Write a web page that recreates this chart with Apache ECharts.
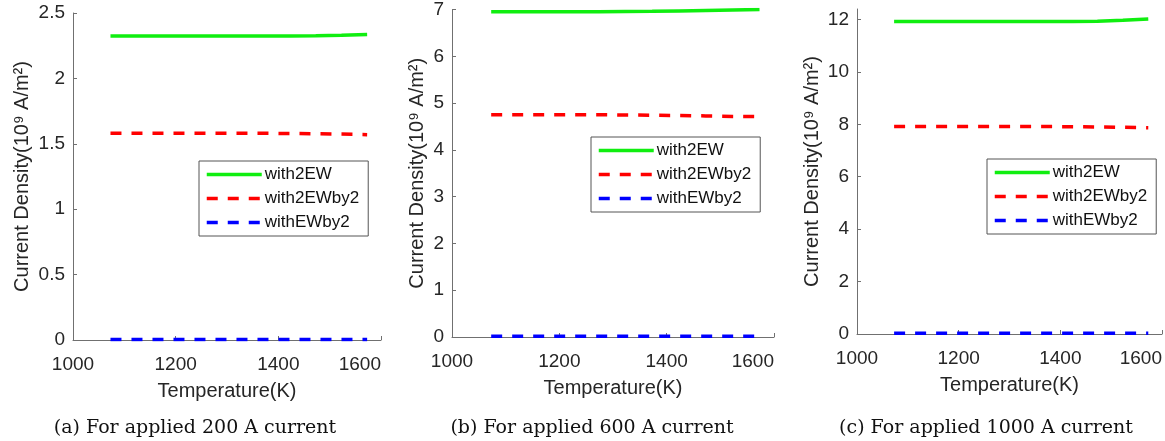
<!DOCTYPE html>
<html>
<head>
<meta charset="utf-8">
<script src="https://cdn.jsdelivr.net/npm/echarts@6/dist/echarts.min.js"></script>
<style>
  html, body { margin: 0; padding: 0; background: #fff; }
  #grafica { width: 1165px; height: 441px; }
</style>
</head>
<body>
<div id="grafica"></div>
<script>
// temperatures (K)
const temps = [1073, 1123, 1173, 1223, 1273, 1323, 1373, 1423, 1473, 1523, 1573];
const names = ["with2EW", "with2EWby2", "withEWby2"];

// (a) 200 A
const a2EW = [2.325, 2.325, 2.325, 2.325, 2.325, 2.325, 2.325, 2.325, 2.326, 2.33, 2.335];
const a2EWby2 = [1.58, 1.58, 1.58, 1.58, 1.58, 1.58, 1.58, 1.579, 1.577, 1.574, 1.57];
const aEWby2 = [0.004, 0.004, 0.004, 0.004, 0.004, 0.004, 0.004, 0.004, 0.004, 0.004, 0.004];

// (b) 600 A
const b2EW = [6.95, 6.95, 6.95, 6.95, 6.95, 6.955, 6.96, 6.97, 6.98, 6.99, 7.0];
const b2EWby2 = [4.75, 4.75, 4.75, 4.75, 4.75, 4.745, 4.74, 4.735, 4.725, 4.715, 4.71];
const bEWby2 = [0.015, 0.015, 0.015, 0.015, 0.015, 0.015, 0.015, 0.015, 0.015, 0.015, 0.015];

// (c) 1000 A
const c2EW = [11.92, 11.92, 11.92, 11.92, 11.92, 11.92, 11.92, 11.92, 11.93, 11.97, 12.02];
const c2EWby2 = [7.92, 7.92, 7.92, 7.92, 7.92, 7.92, 7.915, 7.91, 7.9, 7.885, 7.87];
const cEWby2 = [0.025, 0.025, 0.025, 0.025, 0.025, 0.025, 0.025, 0.025, 0.025, 0.025, 0.025];

const captions = ["(a) For applied 200 A current", "(b) For applied 600 A current", "(c) For applied 1000 A current"];
const yMax = [2.5, 7, 12.4];
const yStep = [0.5, 1, 2];

const panels = [
  { grid: { left: 73, top: 13, width: 308, height: 327 }, nameGap: 41, legend: { left: 199, top: 161 }, cap: 195 },
  { grid: { left: 452, top: 9, width: 322, height: 328 }, nameGap: 25, legend: { left: 591, top: 137 }, cap: 592 },
  { grid: { left: 857, top: 9, width: 307, height: 325 }, nameGap: 35, legend: { left: 987, top: 159 }, cap: 986 },
];
const dataSets = [
  [a2EW, a2EWby2, aEWby2],
  [b2EW, b2EWby2, bEWby2],
  [c2EW, c2EWby2, cEWby2],
];
const colors = ["#10ee10", "#ff0000", "#0000ff"];
const dashes = ["solid", [11, 10], [11, 10]];

const txt = "#262626";
const axisCol = "#707070";
const font = "Liberation Sans";

const getOptionChart = () => {
  const series = [];
  dataSets.forEach((set, p) => {
    set.forEach((vals, k) => {
      series.push({
        name: names[k],
        type: "line",
        xAxisIndex: p,
        yAxisIndex: p,
        showSymbol: false,
        symbol: "none",
        color: colors[k],
        lineStyle: { width: 3.5, type: dashes[k], color: colors[k] },
        data: temps.map((t, i) => [t, vals[i]]),
        z: 3 + k,
      });
    });
  });

  return {
    animation: false,
    textStyle: { fontFamily: font },
    grid: panels.map((p) => Object.assign({}, p.grid)),
    xAxis: panels.map((p, i) => ({
      type: "value",
      gridIndex: i,
      min: 1000,
      max: 1600,
      interval: 200,
      name: "Temperature(K)",
      nameLocation: "middle",
      nameGap: 41,
      nameTextStyle: { color: txt, fontSize: 20, fontFamily: font },
      axisLine: { show: true, lineStyle: { color: axisCol, width: 1 } },
      axisTick: { show: true, inside: true, length: 4, lineStyle: { color: axisCol } },
      axisLabel: {
        color: txt, fontSize: 19, margin: 15, fontFamily: font, alignMaxLabel: "right",
        formatter: (v) => String(v),
      },
      splitLine: { show: false },
    })),
    yAxis: panels.map((p, i) => ({
      type: "value",
      gridIndex: i,
      min: 0,
      max: yMax[i],
      interval: yStep[i],
      name: "Current Density(10\u2079 A/m\u00b2)",
      nameLocation: "middle",
      nameGap: p.nameGap,
      nameRotate: 90,
      nameTextStyle: { color: txt, fontSize: 20, fontFamily: font },
      axisLine: { show: true, lineStyle: { color: axisCol, width: 1 } },
      axisTick: { show: true, inside: true, length: 4, lineStyle: { color: axisCol } },
      axisLabel: {
        color: txt, fontSize: 19, margin: 8, fontFamily: font, showMaxLabel: i !== 2,
        formatter: (v) => String(v),
      },
      splitLine: { show: false },
    })),
    legend: panels.map((p) => ({
      orient: "vertical",
      left: p.legend.left,
      top: p.legend.top,
      data: names,
      itemWidth: 55,
      itemHeight: 14,
      itemGap: 7,
      padding: [5, 9, 5, 6],
      borderColor: "#555",
      borderWidth: 1,
      borderRadius: 0,
      backgroundColor: "#fff",
      selectedMode: false,
      itemStyle: { opacity: 0 },
      lineStyle: { width: 3.5 },
      textStyle: { color: "#111", fontSize: 17, fontFamily: font, padding: [0, 0, 0, -2] },
    })),
    graphic: panels.map((p, i) => ({
      type: "text",
      x: p.cap,
      y: 428,
      style: {
        text: captions[i],
        align: "center",
        verticalAlign: "middle",
        font: '19px "DejaVu Serif"',
        fill: "#111",
      },
    })),
    series: series,
  };
};

const initCharts = () => {
  const chart = echarts.init(document.querySelector("#grafica"));
  chart.setOption(getOptionChart());
};

initCharts();
</script>
</body>
</html>
